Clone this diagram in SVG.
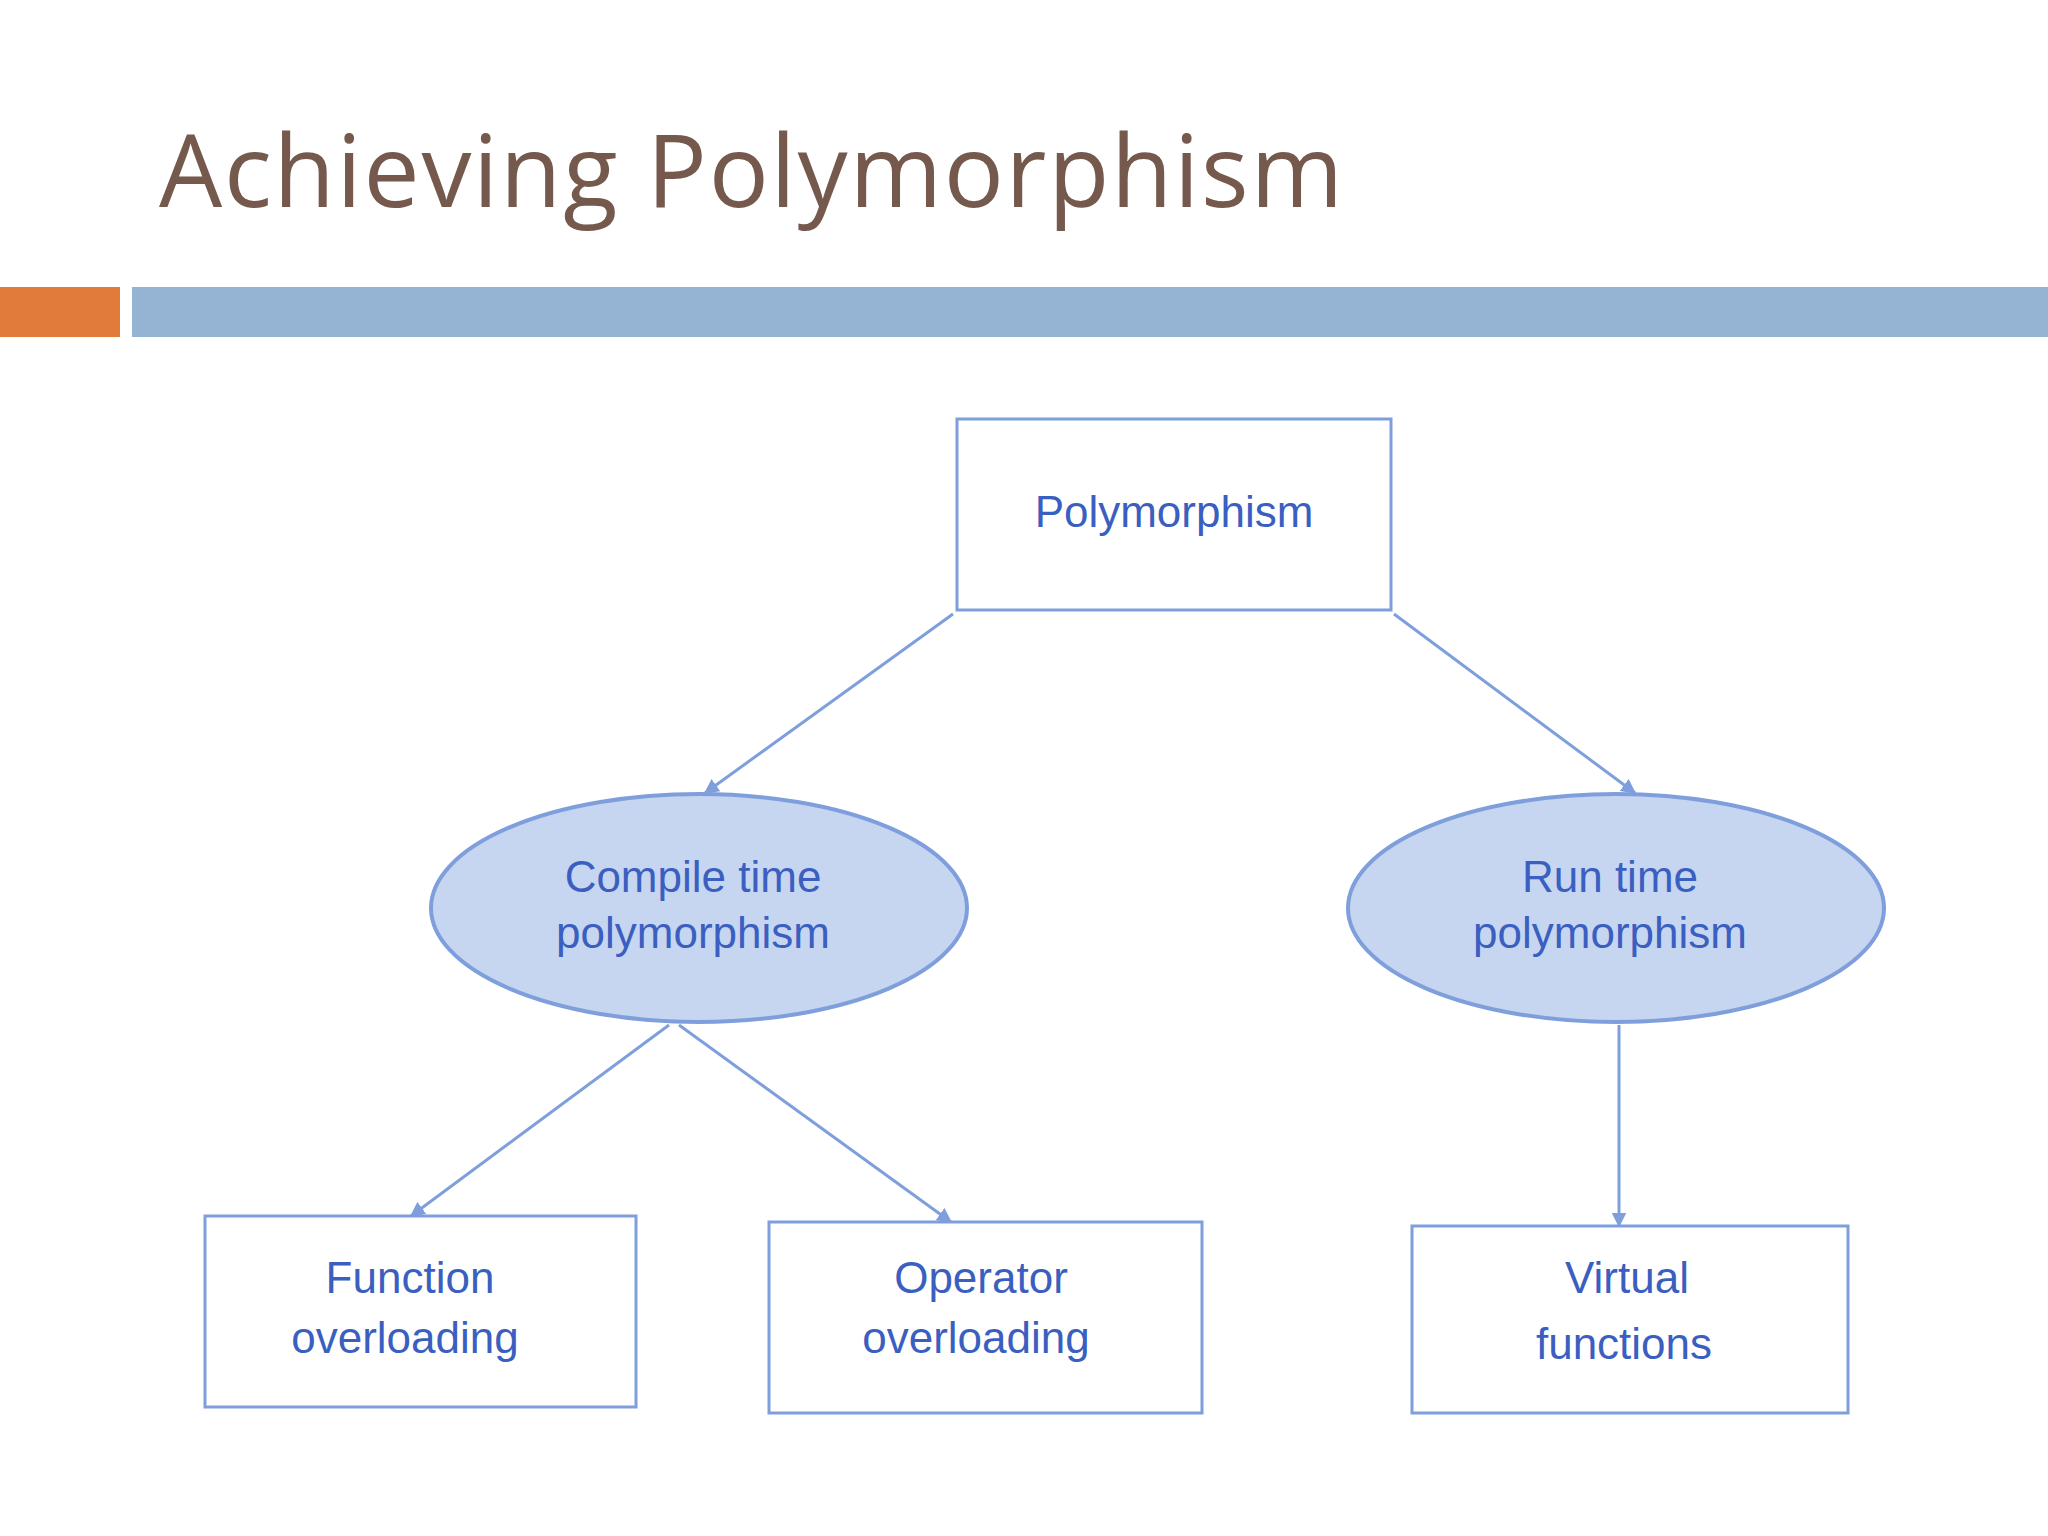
<svg xmlns="http://www.w3.org/2000/svg" width="2048" height="1536" viewBox="0 0 2048 1536">
<defs>
<style>
.box{fill:#fff;stroke:#7f9fdc;stroke-width:3}
.ell{fill:#c6d6f0;stroke:#7f9fdc;stroke-width:4}
.t{font-family:"Liberation Sans",Arial,sans-serif;font-size:44px;fill:#3b5fc0;text-anchor:middle}
.c{stroke:#7f9fdc;stroke-width:3;fill:none;marker-end:url(#a)}
</style>
<marker id="a" viewBox="0 0 10 10" refX="9" refY="5" markerWidth="5" markerHeight="5" orient="auto"><path d="M0,0L10,5L0,10z" fill="#7f9fdc"/></marker>
</defs>
<rect width="2048" height="1536" fill="#fff"/>
<text x="159" y="207" font-family="Open Sans,'Liberation Sans',sans-serif" font-size="100" textLength="1184" fill="#76594d">Achieving Polymorphism</text>
<rect x="0" y="287" width="120" height="50" fill="#e07b39"/>
<rect x="132" y="287" width="1916" height="50" fill="#95b3d3"/>
<g id="connectors">
<line class="c" x1="953" y1="614" x2="705" y2="793"/>
<line class="c" x1="1394" y1="614" x2="1635" y2="793"/>
<line class="c" x1="669" y1="1025" x2="411" y2="1216"/>
<line class="c" x1="679" y1="1025" x2="951" y2="1222"/>
<line class="c" x1="1619" y1="1025" x2="1619" y2="1226"/>
</g>
<g id="poly"><rect class="box" x="957" y="419" width="434" height="191"/><text class="t" x="1174" y="527">Polymorphism</text></g>
<g id="compile"><ellipse class="ell" cx="699" cy="908" rx="268" ry="114"/><text class="t" x="693" y="892">Compile time</text><text class="t" x="693" y="948">polymorphism</text></g>
<g id="run"><ellipse class="ell" cx="1616" cy="908" rx="268" ry="114"/><text class="t" x="1610" y="892">Run time</text><text class="t" x="1610" y="948">polymorphism</text></g>
<g id="func"><rect class="box" x="205" y="1216" width="431" height="191"/><text class="t" x="410" y="1293">Function</text><text class="t" x="405" y="1353">overloading</text></g>
<g id="oper"><rect class="box" x="769" y="1222" width="433" height="191"/><text class="t" x="981" y="1293">Operator</text><text class="t" x="976" y="1353">overloading</text></g>
<g id="virt"><rect class="box" x="1412" y="1226" width="436" height="187"/><text class="t" x="1627" y="1293">Virtual</text><text class="t" x="1624" y="1359">functions</text></g>
</svg>
